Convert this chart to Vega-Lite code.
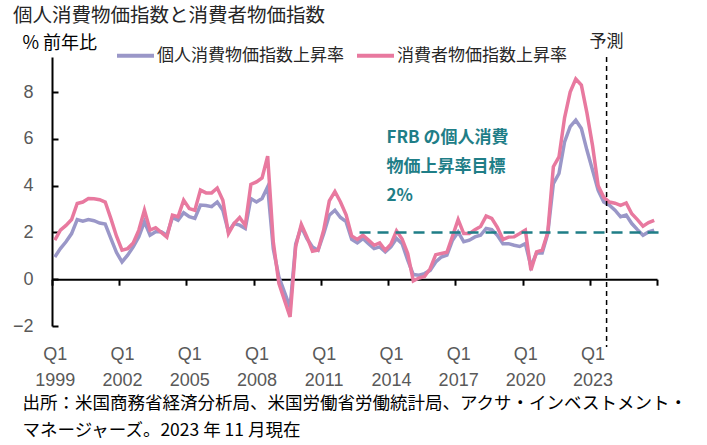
{
"$schema": "https://vega.github.io/schema/vega-lite/v6.json",
"width": 605, "height": 269,
"autosize": {"type": "none"},
"padding": {"left": 52, "top": 57, "right": 50, "bottom": 119},
"background": "white",
"config": {"view": {"stroke": null}, "font": "Noto Sans CJK JP"},
"title": {"text": "個人消費物価指数と消費者物価指数", "anchor": "start", "frame": "group", "dx": -39, "dy": 2, "offset": 8, "fontSize": 19.5, "fontWeight": "normal", "color": "#262626", "font": "Noto Sans CJK JP"},
"datasets": {
"rates": [
{"q":0,"pce":0.95,"cpi":1.67},{"q":1,"pce":1.31,"cpi":2.1},{"q":2,"pce":1.6,"cpi":2.3},{"q":3,"pce":1.95,"cpi":2.55},
{"q":4,"pce":2.55,"cpi":3.24},{"q":5,"pce":2.48,"cpi":3.3},{"q":6,"pce":2.55,"cpi":3.45},{"q":7,"pce":2.5,"cpi":3.44},
{"q":8,"pce":2.4,"cpi":3.4},{"q":9,"pce":2.36,"cpi":3.3},{"q":10,"pce":1.75,"cpi":2.6},{"q":11,"pce":1.15,"cpi":1.85},
{"q":12,"pce":0.74,"cpi":1.24},{"q":13,"pce":1.03,"cpi":1.31},{"q":14,"pce":1.38,"cpi":1.55},{"q":15,"pce":1.81,"cpi":2.1},
{"q":16,"pce":2.46,"cpi":2.95},{"q":17,"pce":1.88,"cpi":2.1},{"q":18,"pce":2.03,"cpi":2.2},{"q":19,"pce":2.03,"cpi":2.0},
{"q":20,"pce":1.88,"cpi":1.8},{"q":21,"pce":2.64,"cpi":2.74},{"q":22,"pce":2.52,"cpi":2.67},{"q":23,"pce":2.84,"cpi":3.38},
{"q":24,"pce":2.67,"cpi":3.02},{"q":25,"pce":2.6,"cpi":2.95},{"q":26,"pce":3.17,"cpi":3.81},{"q":27,"pce":3.15,"cpi":3.69},
{"q":28,"pce":3.1,"cpi":3.69},{"q":29,"pce":3.3,"cpi":3.9},{"q":30,"pce":2.95,"cpi":3.38},{"q":31,"pce":2.03,"cpi":1.95},
{"q":32,"pce":2.38,"cpi":2.38},{"q":33,"pce":2.31,"cpi":2.64},{"q":34,"pce":2.17,"cpi":2.3},{"q":35,"pce":3.45,"cpi":4.05},
{"q":36,"pce":3.3,"cpi":4.16},{"q":37,"pce":3.45,"cpi":4.33},{"q":38,"pce":3.95,"cpi":5.26},{"q":39,"pce":1.3,"cpi":1.6},
{"q":40,"pce":0.1,"cpi":-0.18},{"q":41,"pce":-0.55,"cpi":-0.9},{"q":42,"pce":-1.2,"cpi":-1.61},{"q":43,"pce":1.5,"cpi":1.4},
{"q":44,"pce":2.24,"cpi":2.35},{"q":45,"pce":1.74,"cpi":1.81},{"q":46,"pce":1.38,"cpi":1.2},{"q":47,"pce":1.24,"cpi":1.25},
{"q":48,"pce":1.95,"cpi":2.1},{"q":49,"pce":2.74,"cpi":3.35},{"q":50,"pce":2.95,"cpi":3.75},{"q":51,"pce":2.64,"cpi":3.3},
{"q":52,"pce":2.46,"cpi":2.75},{"q":53,"pce":1.7,"cpi":1.85},{"q":54,"pce":1.55,"cpi":1.7},{"q":55,"pce":1.74,"cpi":1.88},
{"q":56,"pce":1.52,"cpi":1.67},{"q":57,"pce":1.31,"cpi":1.45},{"q":58,"pce":1.38,"cpi":1.55},{"q":59,"pce":1.17,"cpi":1.24},
{"q":60,"pce":1.38,"cpi":1.5},{"q":61,"pce":1.74,"cpi":2.07},{"q":62,"pce":1.52,"cpi":1.72},{"q":63,"pce":0.81,"cpi":1.1},
{"q":64,"pce":0.2,"cpi":-0.07},{"q":65,"pce":0.17,"cpi":0.05},{"q":66,"pce":0.24,"cpi":0.12},{"q":67,"pce":0.38,"cpi":0.45},
{"q":68,"pce":0.74,"cpi":1.05},{"q":69,"pce":0.95,"cpi":1.1},{"q":70,"pce":1.03,"cpi":1.15},{"q":71,"pce":1.67,"cpi":1.85},
{"q":72,"pce":2.02,"cpi":2.55},{"q":73,"pce":1.6,"cpi":1.95},{"q":74,"pce":1.67,"cpi":1.95},{"q":75,"pce":1.81,"cpi":2.12},
{"q":76,"pce":1.88,"cpi":2.25},{"q":77,"pce":2.17,"cpi":2.7},{"q":78,"pce":2.12,"cpi":2.6},{"q":79,"pce":1.88,"cpi":2.22},
{"q":80,"pce":1.52,"cpi":1.7},{"q":81,"pce":1.52,"cpi":1.8},{"q":82,"pce":1.45,"cpi":1.81},{"q":83,"pce":1.4,"cpi":1.95},
{"q":84,"pce":1.52,"cpi":2.1},{"q":85,"pce":0.55,"cpi":0.38},{"q":86,"pce":1.12,"cpi":1.17},{"q":87,"pce":1.12,"cpi":1.24},
{"q":88,"pce":1.95,"cpi":2.0},{"q":89,"pce":4.09,"cpi":4.81},{"q":90,"pce":4.52,"cpi":5.23},{"q":91,"pce":5.87,"cpi":6.9},
{"q":92,"pce":6.52,"cpi":8.0},{"q":93,"pce":6.8,"cpi":8.56},{"q":94,"pce":6.44,"cpi":8.3},{"q":95,"pce":5.51,"cpi":7.1},
{"q":96,"pce":4.66,"cpi":5.7},{"q":97,"pce":3.8,"cpi":4.0},{"q":98,"pce":3.3,"cpi":3.5},{"q":99,"pce":3.16,"cpi":3.3},
{"q":100,"pce":2.95,"cpi":3.25},{"q":101,"pce":2.67,"cpi":3.16},{"q":102,"pce":2.74,"cpi":3.26},{"q":103,"pce":2.38,"cpi":2.8},
{"q":104,"pce":2.12,"cpi":2.55},{"q":105,"pce":1.88,"cpi":2.27},{"q":106,"pce":2.02,"cpi":2.42},{"q":107,"pce":2.1,"cpi":2.52}
],
"target": [{"from": 54.4, "to": 108.4, "rate": 2}],
"forecast": [{"q": 98.5, "label": "予測"}],
"note": [{"q": 59.2, "v": 6.37, "label": ["FRB の個人消費", "物価上昇率目標", "2%"]}]
},
"layer": [
{
"data": {"name": "rates"},
"transform": [{"fold": ["pce", "cpi"], "as": ["key", "v"]}],
"mark": {"type": "line", "strokeWidth": 3.5, "clip": false},
"encoding": {
"x": {"field": "q", "type": "quantitative",
 "scale": {"domain": [-0.5, 107.5], "nice": false, "zero": false},
 "axis": {
  "values": [-0.5, 5.5, 11.5, 17.5, 23.5, 29.5, 35.5, 41.5, 47.5, 53.5, 59.5, 65.5, 71.5, 77.5, 83.5, 89.5, 95.5, 101.5, 107.5],
  "offset": -46.8, "grid": false,
  "domainColor": "black", "domainWidth": 2, "tickColor": "black", "tickWidth": 2, "tickSize": 6,
  "labelExpr": "(datum.value + 0.5) % 12 == 0 && datum.value < 100 ? ['Q1', '' + (1999 + (datum.value + 0.5) / 4)] : ''",
  "labelPadding": 60, "labelFontSize": 18, "labelFont": "Liberation Sans", "labelColor": "#595959",
  "labelLineHeight": 26, "labelOffset": 2.8, "labelFlush": false, "labelOverlap": false, "labelBound": false,
  "title": ["出所：米国商務省経済分析局、米国労働省労働統計局、アクサ・インベストメント・", "マネージャーズ。2023 年 11 月現在"],
  "titleX": -30, "titleY": 115, "titleAlign": "left", "titleBaseline": "top", "titleAnchor": "start",
  "titleFontSize": 17.5, "titleFontWeight": "normal", "titleColor": "black", "titleLineHeight": 27, "titleFont": "Noto Sans CJK JP"
 }},
"y": {"field": "v", "type": "quantitative",
 "scale": {"domain": [-2, 9.5], "nice": false, "zero": false},
 "axis": {
  "values": [-2, 0, 2, 4, 6, 8], "grid": false,
  "domainColor": "black", "domainWidth": 2, "tickColor": "black", "tickWidth": 2, "tickSize": -6,
  "labelPadding": 25, "labelFontSize": 18, "labelFont": "Liberation Sans", "labelColor": "#595959",
  "title": "% 前年比", "titleAngle": 0, "titleX": -30, "titleY": -14, "titleAlign": "left", "titleBaseline": "middle",
  "titleFontSize": 18, "titleFontWeight": "normal", "titleColor": "black", "titleFont": "Noto Sans CJK JP"
 }},
"color": {"field": "key", "type": "nominal",
 "scale": {"domain": ["pce", "cpi"], "range": ["#9a97c8", "#e8799f"]},
 "legend": {"orient": "none", "legendX": 63, "legendY": -22, "direction": "horizontal", "columns": 2, "title": null,
  "symbolType": "stroke", "symbolSize": 1369, "symbolStrokeWidth": 4,
  "labelFontSize": 17, "labelFont": "Noto Sans CJK JP", "labelColor": "#262626", "labelOffset": 1, "columnPadding": 5, "labelLimit": 400,
  "labelExpr": "datum.label == 'pce' ? '個人消費物価指数上昇率' : '消費者物価指数上昇率'"}}
}
},
{
"data": {"name": "target"},
"mark": {"type": "rule", "color": "#1f7e87", "strokeWidth": 2.5, "strokeDash": [11, 7]},
"encoding": {"x": {"field": "from", "type": "quantitative"}, "x2": {"field": "to"}, "y": {"field": "rate", "type": "quantitative"}}
},
{
"data": {"name": "forecast"},
"mark": {"type": "rule", "color": "black", "strokeWidth": 1.5, "strokeDash": [5, 4]},
"encoding": {"x": {"field": "q", "type": "quantitative"}, "y": {"datum": 9.5}, "y2": {"datum": -2.9}}
},
{
"data": {"name": "forecast"},
"mark": {"type": "text", "fontSize": 17, "color": "#262626", "align": "center", "baseline": "middle", "font": "Noto Sans CJK JP"},
"encoding": {"x": {"field": "q", "type": "quantitative"}, "y": {"datum": 10.15}, "text": {"field": "label"}}
},
{
"data": {"name": "note"},
"mark": {"type": "text", "fontSize": 17, "fontWeight": "bold", "color": "#1f7e87", "align": "left", "baseline": "top", "lineHeight": 29, "font": "Noto Sans CJK JP"},
"encoding": {"x": {"field": "q", "type": "quantitative"}, "y": {"field": "v", "type": "quantitative"}, "text": {"field": "label"}}
}
]
}
